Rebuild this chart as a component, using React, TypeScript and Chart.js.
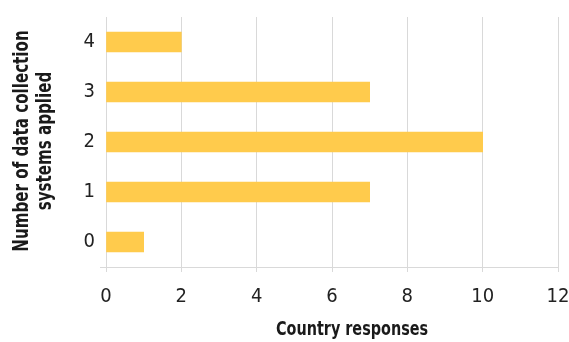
import React, { useEffect, useRef } from "react";
import { Chart, registerables } from "chart.js";

Chart.register(...registerables);

// Number of data collection systems applied (top to bottom)
const systemCounts = ["4", "3", "2", "1", "0"];
// Country responses per category
const responses = [2, 7, 10, 7, 1];
// Horizontal axis range
const xMin = 0;
const xMax = 12;
const xStep = 2;
// Axis titles
const xTitle = "Country responses";
const yTitle = ["Number of data collection", "systems applied"];

const FONT = "'DejaVu Sans Condensed', 'Liberation Sans Narrow', sans-serif";
const BAR = "#FFCB4C";
const GRID = "#D9D9D9";
const TEXT = "#1a1a1a";
// Horizontal squeeze applied to the bold titles for a narrow look
const SQUEEZE = 0.8;

// Draws the axis titles in a condensed bold face
const condensedTitles = {
  id: "condensedTitles",
  afterDraw(chart: any) {
    const { ctx, chartArea } = chart;
    ctx.save();
    ctx.fillStyle = TEXT;
    ctx.font = `bold 20px ${FONT}`;
    ctx.textAlign = "center";
    ctx.textBaseline = "alphabetic";

    // bottom title
    ctx.save();
    ctx.translate((chartArea.left + chartArea.right) / 2 + 20, 335);
    ctx.scale(SQUEEZE, 1);
    ctx.fillText(xTitle, 0, 0);
    ctx.restore();

    // left title, rotated
    ctx.font = `bold 21px ${FONT}`;
    const midY = (chartArea.top + chartArea.bottom) / 2 - 1;
    const baselines = [28, 51];
    yTitle.forEach((line, i) => {
      ctx.save();
      ctx.translate(baselines[i], midY);
      ctx.rotate(-Math.PI / 2);
      ctx.scale(SQUEEZE, 1);
      ctx.fillText(line, 0, 0);
      ctx.restore();
    });
    ctx.restore();
  },
};

export default function App() {
  const canvasRef = useRef<HTMLCanvasElement | null>(null);

  useEffect(() => {
    document.body.style.margin = "0";
    const canvas = canvasRef.current;
    if (!canvas) return;
    const chart = new Chart(canvas, {
      type: "bar",
      data: {
        labels: systemCounts,
        datasets: [
          {
            data: responses,
            backgroundColor: BAR,
            borderWidth: 0,
            barThickness: 20,
          },
        ],
      },
      options: {
        indexAxis: "y",
        animation: false,
        responsive: false,
        maintainAspectRatio: false,
        layout: { padding: { top: 14, right: 0, bottom: 0, left: 0 } },
        plugins: {
          legend: { display: false },
          tooltip: { enabled: false },
        },
        scales: {
          x: {
            min: xMin,
            max: xMax,
            ticks: {
              stepSize: xStep,
              color: "#222",
              padding: 13,
              font: { family: FONT, size: 20 },
              maxRotation: 0,
            },
            grid: {
              color: GRID,
              lineWidth: 1,
              tickLength: 5,
              tickColor: GRID,
            },
            border: { display: false },
            afterFit: (scale: any) => {
              scale.height = 75;
              scale.paddingRight = 11;
            },
          },
          y: {
            ticks: {
              color: "#222",
              padding: 5,
              font: { family: FONT, size: 20 },
            },
            grid: {
              offset: true,
              drawOnChartArea: true,
              tickLength: 6,
              color: (ctx: any) => (ctx.type === "tick" ? "rgba(0,0,0,0)" : GRID),
              lineWidth: 1,
            },
            border: { display: false },
            afterFit: (scale: any) => {
              scale.width = 106;
            },
          },
        },
      },
      plugins: [condensedTitles],
    });
    return () => chart.destroy();
  }, []);

  return (
    <div style={{ position: "absolute", left: 0, top: 0, width: 569, height: 342, background: "#fff" }}>
      <canvas ref={canvasRef} width={569} height={342} style={{ display: "block" }} />
    </div>
  );
}
